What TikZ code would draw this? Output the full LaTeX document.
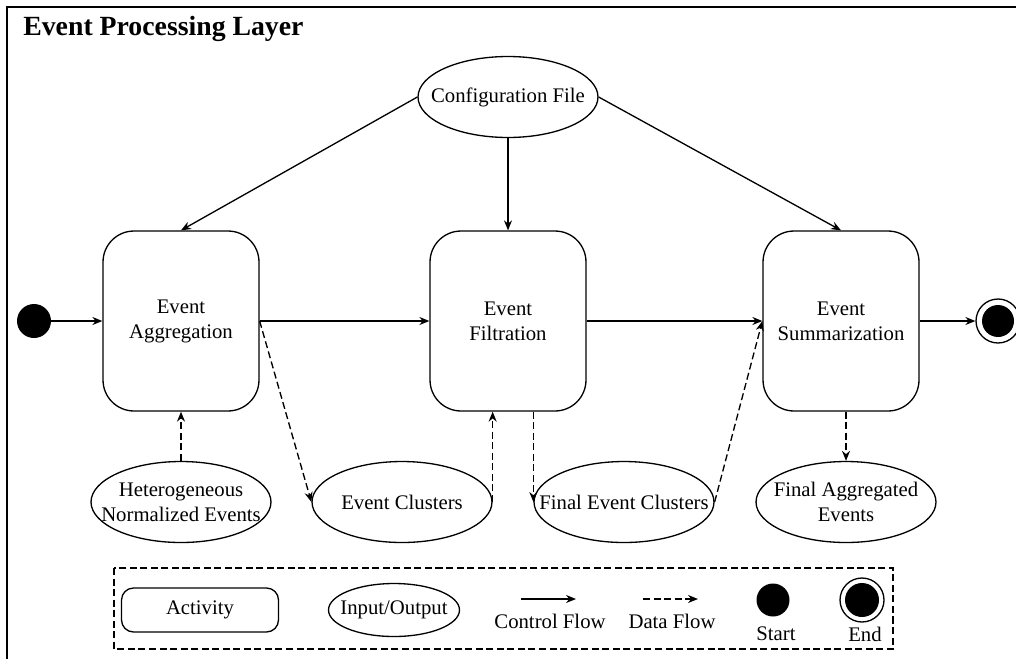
\documentclass[tikz,border=0pt]{standalone}
\usepackage{fontspec}
\setmainfont{Liberation Serif}
\usetikzlibrary{arrows.meta,shapes.geometric}
\tikzset{
  activityBox/.style={draw, line width=0.75pt, rounded corners=0.62cm, align=center,
    minimum width=3.12cm, minimum height=3.6cm, inner sep=0pt},
  ioEllipse/.style={draw, ellipse, line width=0.75pt,
    minimum width=3.6cm, minimum height=1.62cm, inner sep=0pt,
    label={[align=center, inner sep=0pt]center:#1}},
  controlFlow/.style={line width=0.75pt, -{Stealth[length=0.2cm,width=0.16cm]}},
  dataFlow/.style={controlFlow, dash pattern=on 4pt off 2pt},
  startDot/.style={circle, fill=black, minimum size=0.68cm, inner sep=0pt},
  endDot/.style={circle, draw, fill=white, line width=0.75pt, minimum size=0.88cm, inner sep=0pt,
    path picture={\fill[black] (path picture bounding box.center) circle (#1);}},
  endDot/.default=0.32cm
}
\begin{document}
\begin{tikzpicture}[x=0.02cm, y=-0.02cm, font=\fontsize{11.8}{14.2}\selectfont]
\useasboundingbox (0,0) rectangle (1016,659);
\draw[line width=0.9pt] (7,659) -- (7,7) -- (1016,7);
\node[anchor=base west, inner sep=0pt, font=\fontsize{15.8}{18}\selectfont\bfseries] (title) at (23,35) {Event Processing Layer};

\node[ioEllipse={Configuration File}] (conf) at (508,97) {};
\node[activityBox] (agg) at (181,321) {Event\\Aggregation};
\node[activityBox] (filt) at (508,321) {Event\\Filtration};
\node[activityBox] (summ) at (841,321) {Event\\Summarization};
\node[startDot] (start) at (34,321) {};
\node[endDot] (end) at (998,321) {};

\node[ioEllipse={Heterogeneous\\Normalized Events}] (het) at (181,502) {};
\node[ioEllipse={Event Clusters}] (clus) at (402,502) {};
\node[ioEllipse={Final Event Clusters}] (fclus) at (624,502) {};
\node[ioEllipse={Final Aggregated\\Events}] (fagg) at (846,502) {};

\draw[controlFlow] (conf.west) -- (agg.north);
\draw[controlFlow] (conf.south) -- (filt.north);
\draw[controlFlow] (conf.east) -- (summ.north);
\draw[controlFlow] (start) -- (agg.west);
\draw[controlFlow] (agg.east) -- (filt.west);
\draw[controlFlow] (filt.east) -- (summ.west);
\draw[controlFlow] (summ.east) -- (end);

\draw[dataFlow] (het.north) -- (agg.south);
\draw[dataFlow] (agg.east) -- (clus.west);
\draw[dataFlow] (clus.east) -- (clus.east |- filt.south);
\draw[dataFlow] (fclus.west |- filt.south) -- (fclus.west);
\draw[dataFlow] (fclus.east) -- (summ.west);
\draw[dataFlow] (fagg.north |- summ.south) -- (fagg.north);

% legend
\draw[line width=0.75pt, dash pattern=on 4pt off 2pt] (114,568) rectangle (893,649);
\node[activityBox, rounded corners=0.24cm, minimum width=3.14cm, minimum height=0.88cm] (legAct) at (200,610) {Activity};
\node[ioEllipse={Input/Output}, minimum width=2.62cm, minimum height=1.06cm] (legIO) at (394,610) {};
\coordinate (cfA) at (521,599);
\coordinate (cfB) at (576,599);
\draw[controlFlow] (cfA) -- (cfB);
\node (legCf) at (550,621) {Control Flow};
\coordinate (dfA) at (643,599);
\coordinate (dfB) at (698,599);
\draw[dataFlow] (dfA) -- (dfB);
\node (legDf) at (672,621) {Data Flow};
\node[startDot, minimum size=0.66cm] (legStart) at (773,600) {};
\node (legStartTxt) at (776,634) {Start};
\node[endDot=0.34cm] (legEnd) at (862,600) {};
\node (legEndTxt) at (865,634) {End};
\end{tikzpicture}
\end{document}
